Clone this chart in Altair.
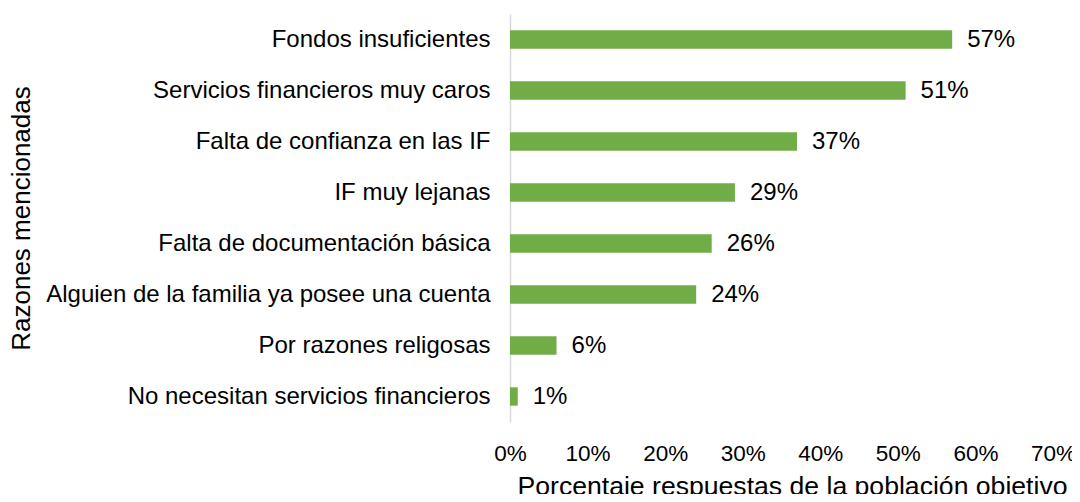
import altair as alt
import pandas as pd

categories = [
    "Fondos insuficientes",
    "Servicios financieros muy caros",
    "Falta de confianza en las IF",
    "IF muy lejanas",
    "Falta de documentación básica",
    "Alguien de la familia ya posee una cuenta",
    "Por razones religosas",
    "No necesitan servicios financieros",
]
values = [0.57, 0.51, 0.37, 0.29, 0.26, 0.24, 0.06, 0.01]
tick_values = [0, 0.1, 0.2, 0.3, 0.4, 0.5, 0.6, 0.7]

df = pd.DataFrame({"razon": categories, "valor": values})

FONT = "Liberation Sans"
GREEN = "#70AD47"
FS = 24

y_enc = alt.Y(
    "razon:N",
    sort=categories,
    scale=alt.Scale(paddingInner=0.64, paddingOuter=0.32),
    axis=alt.Axis(
        title="Razones mencionadas",
        titleFont=FONT, titleFontSize=26, titleFontWeight="normal",
        titleColor="#000000", titleX=-481, titleY=204, titleAngle=270,
        titleBaseline="alphabetic", titleAlign="center",
        labelFont=FONT, labelFontSize=FS, labelColor="#000000",
        labelPadding=20, ticks=False, domainColor="#d9d9d9", domainWidth=1.5,
        labelLimit=700,
    ),
)

x_enc = alt.X(
    "valor:Q",
    scale=alt.Scale(domain=[0, 0.7], nice=False),
    axis=alt.Axis(
        title="Porcentaje respuestas de la población objetivo",
        titleFont=FONT, titleFontSize=26.6, titleFontWeight="normal",
        titleColor="#000000", titleX=282, titleY=72,
        titleBaseline="alphabetic", titleAlign="center",
        format=".0%", values=tick_values, labelFlush=False,
        labelFont=FONT, labelFontSize=22.5, labelColor="#000000",
        labelPadding=20, ticks=False, domain=False, grid=False,
    ),
)

bars = alt.Chart(df).mark_bar(color=GREEN).encode(x=x_enc, y=y_enc)

text = alt.Chart(df).mark_text(
    align="left", baseline="middle", dx=15, font=FONT, fontSize=FS, color="#000000"
).encode(
    x="valor:Q",
    y=alt.Y("razon:N", sort=categories),
    text=alt.Text("valor:Q", format=".0%"),
)

chart = (
    alt.layer(bars, text)
    .properties(
        width=543,
        height=408,
        autosize=alt.AutoSizeParams(type="none"),
        padding={"left": 502, "top": 6, "right": 19, "bottom": 72},
        view=alt.ViewBackground(stroke="transparent", strokeWidth=0),
    )
    .configure_view(stroke="transparent", strokeWidth=0)
    .configure(background="#ffffff")
)

chart.save("out.html", embed_options={"renderer": "svg", "actions": False})
